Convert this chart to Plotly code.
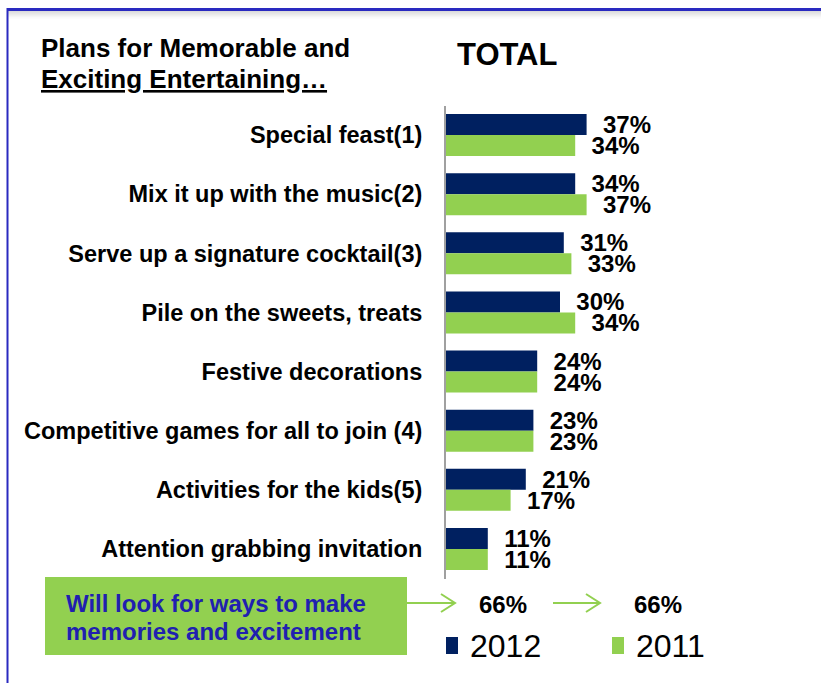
import plotly.graph_objects as go

# Survey results: share of respondents planning each kind of entertaining
categories = [
    "Special feast(1)",
    "Mix it up with the music(2)",
    "Serve up a signature cocktail(3)",
    "Pile on the sweets, treats",
    "Festive decorations",
    "Competitive games for all to join (4)",
    "Activities for the kids(5)",
    "Attention grabbing invitation",
]
values_2012 = [37, 34, 31, 30, 24, 23, 21, 11]
values_2011 = [34, 37, 33, 34, 24, 23, 17, 11]
summary_2012 = 66
summary_2011 = 66

NAVY = "#002060"
GREEN = "#92D050"
FONT = "Liberation Sans, Arial, sans-serif"
W, H = 821, 683


def px(x):
    return x / W


def py(y):
    return 1 - y / H


fig = go.Figure()
for name, vals, col in [("2012", values_2012, NAVY), ("2011", values_2011, GREEN)]:
    fig.add_trace(go.Bar(
        y=categories, x=vals, orientation="h", name=name,
        marker=dict(color=col, line=dict(width=0)),
        text=[f"  {v}%" for v in vals], textposition="outside",
        constraintext="none", cliponaxis=False,
        textfont=dict(family=FONT, size=24, color="black", weight="bold"),
    ))

fig.update_layout(
    width=W, height=H,
    margin=dict(l=0, r=0, t=0, b=0),
    paper_bgcolor="white", plot_bgcolor="white",
    barmode="group", bargap=0.29, bargroupgap=0,
    showlegend=False,
    font=dict(family=FONT, color="black"),
    xaxis=dict(domain=[px(446), px(750)], range=[0, 80], visible=False),
    yaxis=dict(
        domain=[py(578.5), py(105.5)], autorange="reversed",
        showline=True, linecolor="#a0a0a0", linewidth=2,
        showgrid=False, ticks="", ticklabelstandoff=17,
        tickfont=dict(family=FONT, size=23.5, color="black", weight="bold"),
    ),
)

shapes = []
# slide frame: blue top and left edges with a soft shadow under the top edge
for i in range(8):
    g = int(205 + i * 6.5)
    shapes.append(dict(type="line", xref="paper", yref="paper",
                       x0=px(8), x1=1, y0=py(11 + i), y1=py(11 + i),
                       line=dict(color=f"rgb({g},{g},{g})", width=1)))
shapes.append(dict(type="line", xref="paper", yref="paper",
                   x0=px(7), x1=1, y0=py(9.5), y1=py(9.5),
                   line=dict(color="#2a2ac0", width=3)))
shapes.append(dict(type="line", xref="paper", yref="paper",
                   x0=px(7.5), x1=px(7.5), y0=py(8), y1=0,
                   line=dict(color="#2a2ac0", width=2)))
# green call-out box
shapes.append(dict(type="rect", xref="paper", yref="paper",
                   x0=px(45), x1=px(407), y0=py(655), y1=py(577),
                   fillcolor=GREEN, line=dict(width=0), layer="below"))
# arrows toward the summary figures
for x0, x1 in [(407, 455), (553, 600)]:
    shapes.append(dict(type="line", xref="paper", yref="paper",
                       x0=px(x0), x1=px(x1), y0=py(603), y1=py(603),
                       line=dict(color=GREEN, width=2)))
    shapes.append(dict(type="path", xref="paper", yref="paper",
                       path=f"M {px(x1-14)},{py(594)} L {px(x1)},{py(603)} L {px(x1-14)},{py(612)}",
                       line=dict(color=GREEN, width=2)))
# legend swatches
for x0, col in [(446, NAVY), (612, GREEN)]:
    shapes.append(dict(type="rect", xref="paper", yref="paper",
                       x0=px(x0), x1=px(x0 + 12), y0=py(654), y1=py(637),
                       fillcolor=col, line=dict(width=0)))
fig.update_layout(shapes=shapes)

ann = [
    dict(x=px(39), y=py(48), text="<b>Plans for Memorable and</b>",
         xanchor="left", yanchor="middle", font=dict(size=26)),
    dict(x=px(39), y=py(79), text="<b><u>Exciting Entertaining…</u></b>",
         xanchor="left", yanchor="middle", font=dict(size=26)),
    dict(x=px(455), y=py(55), text="<b>TOTAL</b>",
         xanchor="left", yanchor="middle", font=dict(size=31)),
    dict(x=px(64), y=py(603), text="<b>Will look for ways to make</b>",
         xanchor="left", yanchor="middle", font=dict(size=24, color="#2020b0")),
    dict(x=px(64), y=py(631), text="<b>memories and excitement</b>",
         xanchor="left", yanchor="middle", font=dict(size=24, color="#2020b0")),
    dict(x=px(477), y=py(604), text=f"<b>{summary_2012}%</b>",
         xanchor="left", yanchor="middle", font=dict(size=24)),
    dict(x=px(632), y=py(604), text=f"<b>{summary_2011}%</b>",
         xanchor="left", yanchor="middle", font=dict(size=24)),
    dict(x=px(468), y=py(646), text="2012",
         xanchor="left", yanchor="middle", font=dict(size=32)),
    dict(x=px(634), y=py(646), text="2011",
         xanchor="left", yanchor="middle", font=dict(size=32)),
]
for a in ann:
    a.update(xref="paper", yref="paper", showarrow=False)
fig.update_layout(annotations=ann)

fig.write_html("out.html")
